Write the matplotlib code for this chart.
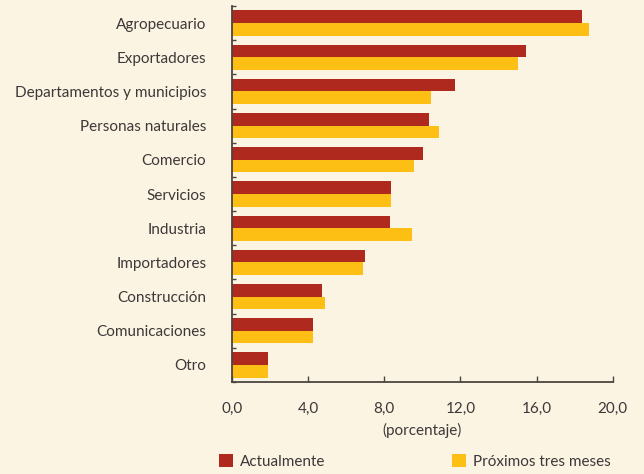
import matplotlib
matplotlib.use("Agg")
import matplotlib.pyplot as plt
from matplotlib.patches import Patch
from matplotlib.ticker import FuncFormatter, FixedLocator
import numpy as np

categories = ["Agropecuario", "Exportadores", "Departamentos y municipios",
              "Personas naturales", "Comercio", "Servicios", "Industria",
              "Importadores", "Construcción", "Comunicaciones", "Otro"]
actualmente = [18.37, 15.42, 11.74, 10.37, 10.05, 8.37, 8.32, 7.0, 4.74, 4.26, 1.89]
proximos = [18.74, 15.0, 10.47, 10.89, 9.58, 8.37, 9.47, 6.89, 4.89, 4.26, 1.89]
xticks = [0, 4, 8, 12, 16, 20]

bg = "#FCF4E3"
red = "#B0291E"
yellow = "#FDBF14"
txt = "#3C3838"
fs = 11

plt.rcParams['font.family'] = ['Lato', 'DejaVu Sans']
fig = plt.figure(figsize=(6.44, 4.74), dpi=100, facecolor=bg)
ax = fig.add_axes([0.3602, 0.1941, 0.5912, 0.7932], facecolor=bg)

y = np.arange(len(categories))
h = 0.37
ax.barh(y - h/2, actualmente, height=h, color=red, label="Actualmente")
ax.barh(y + h/2, proximos, height=h, color=yellow, label="Próximos tres meses")

ax.set_ylim(len(categories) - 0.5, -0.5)
ax.set_xlim(0, 20)
ax.set_yticks(y)
ax.set_yticklabels(categories)
ax.yaxis.set_minor_locator(FixedLocator(np.arange(-0.5, len(categories), 1.0)))
ax.set_xticks(xticks)
ax.xaxis.set_major_formatter(FuncFormatter(lambda v, p: f"{v:.1f}".replace('.', ',')))

for s in ["top", "right"]:
    ax.spines[s].set_visible(False)
for s in ["left", "bottom"]:
    ax.spines[s].set_color("#4a4540")
    ax.spines[s].set_linewidth(1.3)

ax.tick_params(axis='y', which='major', length=0, pad=18.5, labelsize=fs, labelcolor=txt)
ax.tick_params(axis='y', which='minor', length=3, direction='in', color="#4a4540", width=1)
ax.tick_params(axis='x', which='major', length=4, direction='in', color="#4a4540", width=1,
               pad=14.5, labelsize=fs, labelcolor=txt)
ax.set_xlabel("(porcentaje)", fontsize=fs, color=txt, labelpad=5)

handles = [Patch(facecolor=red, label="Actualmente"),
           Patch(facecolor=yellow, label="Próximos tres meses")]
fig.legend(handles=handles, loc='lower left', bbox_to_anchor=(219/644, 0.011), ncol=2,
           frameon=False, fontsize=fs, borderpad=0, borderaxespad=0,
           handlelength=0.93, handleheight=0.93, handletextpad=0.45, columnspacing=8.3,
           labelcolor=txt)

fig.savefig("out.png", dpi=100, facecolor=bg)
